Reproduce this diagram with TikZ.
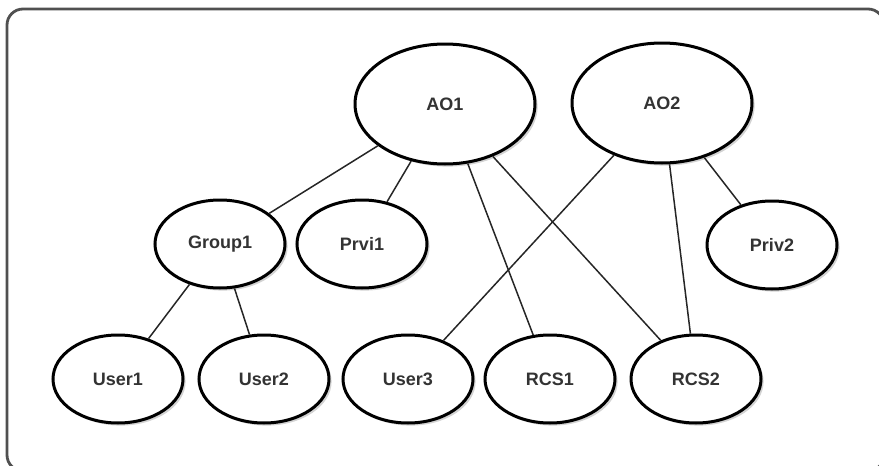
\documentclass[tikz,border=0pt]{standalone}
\usepackage{fontspec}
\setmainfont{Liberation Sans}
\usepackage{tikz}
\usetikzlibrary{shapes.geometric, shadows}
\definecolor{framegray}{HTML}{505050}
\definecolor{textgray}{HTML}{333333}

\tikzset{
    objnode/.style={ellipse, draw=black, line width=1.5pt, fill=white,
        minimum width=65pt, minimum height=44pt, inner sep=0pt,
        text=textgray, font=\fontsize{9}{11}\selectfont\bfseries,
        drop shadow={opacity=0.35, shadow xshift=1.3pt, shadow yshift=-1.3pt}},
    bignode/.style={objnode, minimum width=90pt, minimum height=60pt},
    link/.style={line width=0.75pt, black!85}
}

\begin{document}
\begin{tikzpicture}[x=0.5pt, y=-0.5pt]
    \useasboundingbox (0,0) rectangle (879,466);

    % Outer frame
    \draw[framegray, line width=1.4pt, rounded corners=8pt] (7,9) rectangle (884,471);

    % Top level
    \node[bignode] (ao1) at (445,104) {AO1};
    \node[bignode] (ao2) at (662,103) {AO2};

    % Middle level
    \node[objnode] (group1) at (220,244) {Group1};
    \node[objnode] (prvi1) at (362,244) {Prvi1};
    \node[objnode] (priv2) at (772,245) {Priv2};

    % Bottom level
    \node[objnode] (user1) at (118,379) {User1};
    \node[objnode] (user2) at (264,379) {User2};
    \node[objnode] (user3) at (408,379) {User3};
    \node[objnode] (rcs1) at (550,379) {RCS1};
    \node[objnode] (rcs2) at (696,379) {RCS2};

    % Links from AO1
    \draw[link] (ao1) -- (group1);
    \draw[link] (ao1) -- (prvi1);
    \draw[link] (ao1) -- (rcs1);
    \draw[link] (ao1) -- (rcs2);

    % Links from AO2
    \draw[link] (ao2) -- (user3);
    \draw[link] (ao2) -- (rcs2);
    \draw[link] (ao2) -- (priv2);

    % Group members
    \draw[link] (group1) -- (user1);
    \draw[link] (group1) -- (user2);
\end{tikzpicture}
\end{document}
